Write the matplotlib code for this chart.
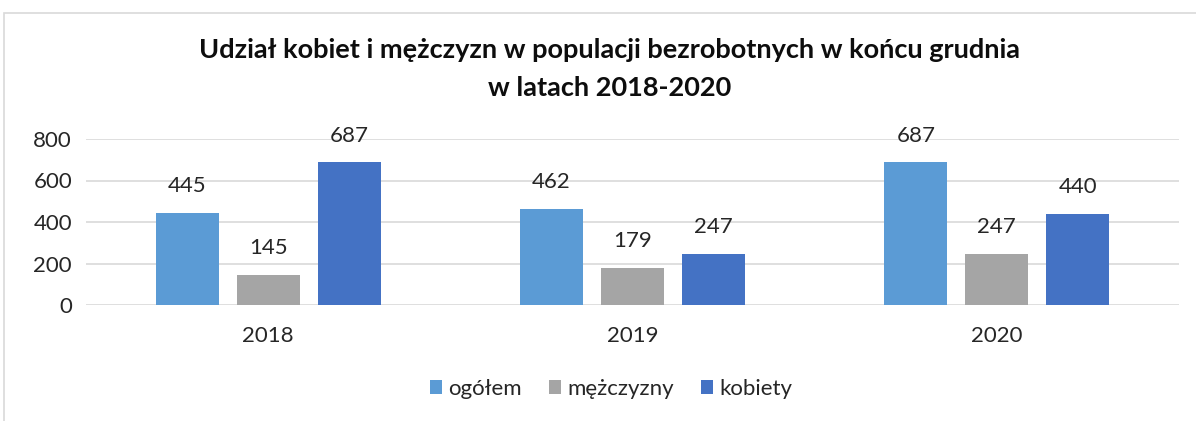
import numpy as np
import matplotlib.pyplot as plt
from matplotlib.patches import Rectangle

plt.rcParams["font.family"] = ["Lato", "DejaVu Sans"]

# data
years = ["2018", "2019", "2020"]
series_names = ["ogółem", "mężczyzny", "kobiety"]
ogolem = [445, 462, 687]
mezczyzni = [145, 179, 247]
kobiety = [687, 247, 440]
colors = ["#5B9BD5", "#A5A5A5", "#4472C4"]

fig = plt.figure(figsize=(11.96, 4.21), dpi=100)
# chart frame (runs off the right/bottom edge like the original crop)
fig.patches.append(Rectangle((4 / 1196, -0.1), 1.2, 1 - 13 / 421 + 0.1,
                             transform=fig.transFigure, fill=False,
                             edgecolor="#D9D9D9", linewidth=1.2))

ax = fig.add_axes([86 / 1196, 1 - 305 / 421, (1179 - 86) / 1196, 166 / 421])

x = np.arange(len(years))
width = 0.173
step = 0.222
for i, (vals, name, c) in enumerate(zip([ogolem, mezczyzni, kobiety], series_names, colors)):
    bars = ax.bar(x + (i - 1) * step, vals, width, color=c, label=name, zorder=3)
    for b, v in zip(bars, vals):
        ax.annotate(str(v), (b.get_x() + b.get_width() / 2, v),
                    xytext=(0, 12), textcoords="offset points",
                    ha="center", va="bottom", fontsize=16, color="#262626")

ax.set_xlim(-0.5, 2.5)
ax.set_ylim(0, 800)
ax.set_yticks([0, 200, 400, 600, 800])
ax.set_xticks(x)
ax.set_xticklabels(years)
ax.grid(axis="y", color="#D9D9D9", linewidth=1.2, zorder=0)
for s in ax.spines.values():
    s.set_visible(False)
ax.tick_params(length=0, labelsize=16, colors="#262626")
ax.tick_params(axis="x", pad=15)
ax.tick_params(axis="y", pad=10)

fig.text(0.51, 1 - 50 / 421, "Udział kobiet i mężczyzn w populacji bezrobotnych w końcu grudnia",
         ha="center", va="center", fontsize=19.5, fontweight="bold", color="#0D0D0D")
fig.text(0.51, 1 - 88 / 421, "w latach 2018-2020",
         ha="center", va="center", fontsize=19.5, fontweight="bold", color="#0D0D0D")

fig.legend(loc="center", bbox_to_anchor=(0.511, 1 - 389 / 421), ncol=3, frameon=False,
           fontsize=16, handlelength=0.55, handleheight=0.55, handletextpad=0.3,
           columnspacing=1.2, labelcolor="#262626")

fig.savefig("out.png", dpi=100)
